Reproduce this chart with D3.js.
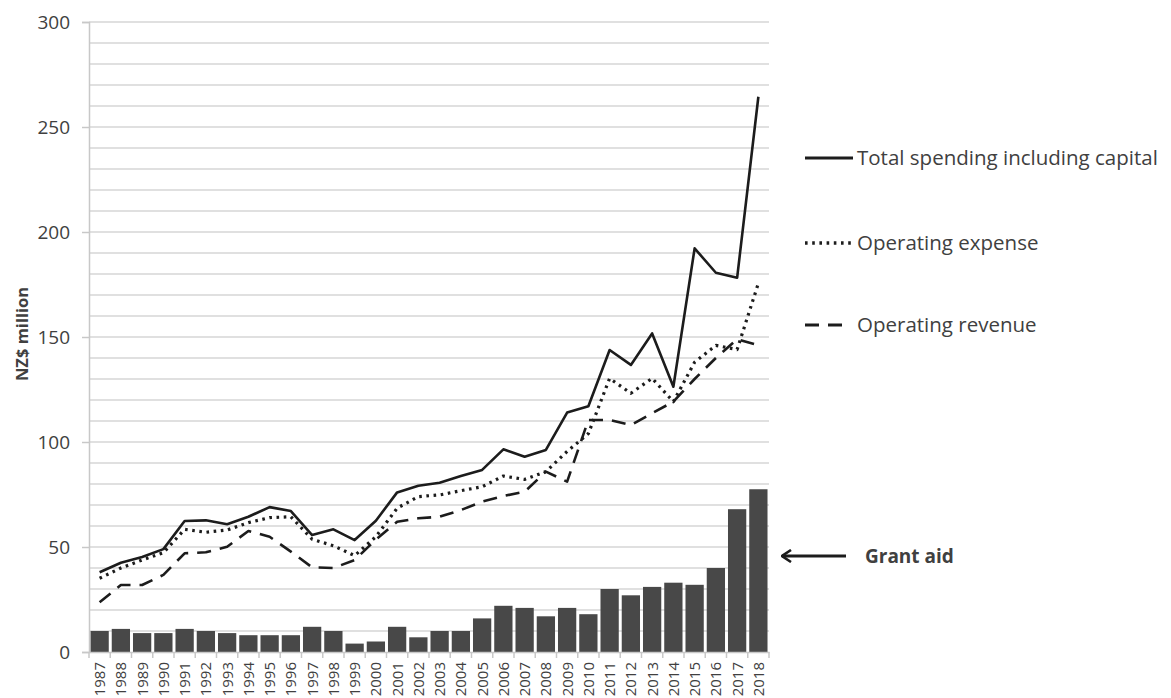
<!DOCTYPE html>
<html>
<head>
<meta charset="utf-8">
<script src="https://cdn.jsdelivr.net/npm/d3@7"></script>
<style>
    body { margin: 0; background: #fff; }
    text { font-family: 'Open Sans', sans-serif; fill: #404040; }
</style>
</head>
<body>
<svg id="chart" width="1171" height="698"></svg>
<script>
const years = d3.range(1987, 2019).map(String);

const grantAid = [10, 11, 9, 9, 11, 10, 9, 8, 8, 8, 12, 10, 4, 5, 12, 7, 10, 10, 16, 22,
    21, 17, 21, 18, 30, 27, 31, 33, 32, 40, 68, 77.5];

const totalSpending = [38, 42.5, 45.2, 49, 62.4, 62.7, 60.8, 64.4, 69, 67.1, 55.7, 58.4, 53.3, 62.5, 76, 79.2,
    80.6, 83.8, 86.7, 96.5, 93, 96.2, 114, 117, 143.8, 136.7, 151.7, 126.3, 192.2, 180.6, 178.2, 264.4];

const operatingExpense = [35.1, 40, 43.8, 47.3, 58.4, 57, 58.1, 61.6, 64, 64.4, 53.7, 50.6, 45.9, 54.9, 68.5, 74,
    74.8, 76.8, 78.7, 83.8, 82.2, 85.9, 95.5, 104, 130.3, 123.2, 130.3, 119.2, 138, 146, 144, 175.6];

const operatingRevenue = [23.7, 31.9, 31.9, 36.7, 47, 47.5, 50.1, 57.6, 54.9, 47.8, 40.3, 40, 43.8, 53.5, 62, 63.7,
    64.4, 67.6, 71.6, 74.3, 76.3, 85.9, 81.1, 110.5, 110.5, 108.1, 113.7, 119.2, 130, 140, 149, 146];

const yTicks = [0, 50, 100, 150, 200, 250, 300];

const series = [
    { name: 'Total spending including capital', values: totalSpending, dash: null, y: 158 },
    { name: 'Operating expense', values: operatingExpense, dash: '2.6,4.6', y: 243 },
    { name: 'Operating revenue', values: operatingRevenue, dash: '14,9', y: 325 },
];

const svg = d3.select('#chart');
const plotLeft = 89, plotRight = 769, plotTop = 22, plotBottom = 652;

const x = d3.scaleBand().domain(years).range([plotLeft, plotRight]).paddingInner(0.14).paddingOuter(0.07);
const xCenter = d3.scalePoint().domain(years).range([plotLeft, plotRight]).padding(0.5);
const y = d3.scaleLinear().domain([0, 300]).range([plotBottom, plotTop]);

// gridlines every 10
svg.append('g')
    .selectAll('line')
    .data(d3.range(10, 301, 10))
    .join('line')
    .attr('x1', plotLeft)
    .attr('x2', plotRight)
    .attr('y1', (d) => y(d))
    .attr('y2', (d) => y(d))
    .attr('stroke', '#d6d6d6')
    .attr('stroke-width', 1.6);

// bars
svg.append('g')
    .selectAll('rect')
    .data(grantAid)
    .join('rect')
    .attr('x', (d, i) => x(years[i]))
    .attr('width', x.bandwidth())
    .attr('y', (d) => y(d))
    .attr('height', (d) => y(0) - y(d))
    .attr('fill', '#484848');

// y axis
const yAxis = svg.append('g')
    .attr('transform', `translate(${plotLeft},0)`)
    .call(d3.axisLeft(y).tickValues(yTicks).tickSize(7).tickPadding(12));
yAxis.select('.domain').attr('stroke', '#c8c8c8').attr('stroke-width', 1.5);
yAxis.selectAll('.tick line').attr('stroke', '#c8c8c8').attr('stroke-width', 1.5);
yAxis.selectAll('.tick text').style('font-size', '19px').attr('fill', '#404040');

// x axis
const xAxis = svg.append('g')
    .attr('transform', `translate(0,${plotBottom})`)
    .call(d3.axisBottom(xCenter).tickSize(0).tickPadding(0));
xAxis.select('.domain').attr('stroke', '#c8c8c8').attr('stroke-width', 1.5);
xAxis.selectAll('.tick text')
    .style('font-size', '15px')
    .attr('fill', '#404040')
    .attr('text-anchor', 'end')
    .attr('transform', 'translate(5,10) rotate(-90)')
    .attr('dy', 0)
    .attr('y', 0)
    .attr('x', 0);

// category boundary ticks
const step = (plotRight - plotLeft) / years.length;
svg.append('g')
    .selectAll('line')
    .data(d3.range(0, years.length + 1))
    .join('line')
    .attr('x1', (d) => plotLeft + d * step)
    .attr('x2', (d) => plotLeft + d * step)
    .attr('y1', plotBottom)
    .attr('y2', plotBottom + 6)
    .attr('stroke', '#c8c8c8')
    .attr('stroke-width', 1.5);

// lines
const line = d3.line()
    .x((d, i) => xCenter(years[i]))
    .y((d) => y(d));

svg.append('g')
    .selectAll('path')
    .data(series)
    .join('path')
    .attr('d', (d) => line(d.values))
    .attr('fill', 'none')
    .attr('stroke', '#1c1c1c')
    .attr('stroke-width', (d) => (d.dash === '2.6,4.6' ? 3.2 : 2.6))
    .attr('stroke-dasharray', (d) => d.dash)
    .attr('stroke-linejoin', 'round');

// legend
const legend = svg.append('g');
legend.selectAll('line')
    .data(series)
    .join('line')
    .attr('x1', 805)
    .attr('x2', (d) => (d.dash === '14,9' ? 846 : 853))
    .attr('y1', (d) => d.y)
    .attr('y2', (d) => d.y)
    .attr('stroke', '#1c1c1c')
    .attr('stroke-width', (d) => (d.dash === '2.6,4.6' ? 3.4 : 3))
    .attr('stroke-dasharray', (d) => d.dash);
legend.selectAll('text')
    .data(series)
    .join('text')
    .attr('x', 857)
    .attr('y', (d) => d.y + 7)
    .style('font-size', '20.5px')
    .text((d) => d.name);

// y axis title
svg.append('text')
    .attr('transform', 'translate(28,334) rotate(-90)')
    .attr('text-anchor', 'middle')
    .style('font-size', '16.5px')
    .style('font-weight', 'bold')
    .attr('fill', '#262626')
    .text('NZ$ million');

// grant aid annotation
svg.append('defs').append('marker')
    .attr('id', 'arrow')
    .attr('viewBox', '0 0 12 14')
    .attr('refX', 11)
    .attr('refY', 7)
    .attr('markerWidth', 12)
    .attr('markerHeight', 14)
    .attr('markerUnits', 'userSpaceOnUse')
    .attr('orient', 'auto')
    .append('path')
    .attr('d', 'M2,1 L11,7 L2,13')
    .attr('fill', 'none')
    .attr('stroke', '#1c1c1c')
    .attr('stroke-width', 2.6);

svg.append('line')
    .attr('x1', 846)
    .attr('x2', 782)
    .attr('y1', 556)
    .attr('y2', 556)
    .attr('stroke', '#1c1c1c')
    .attr('stroke-width', 3)
    .attr('marker-end', 'url(#arrow)');

svg.append('text')
    .attr('x', 865)
    .attr('y', 563)
    .style('font-size', '19px')
    .style('font-weight', 'bold')
    .attr('fill', '#262626')
    .text('Grant aid');
</script>
</body>
</html>
